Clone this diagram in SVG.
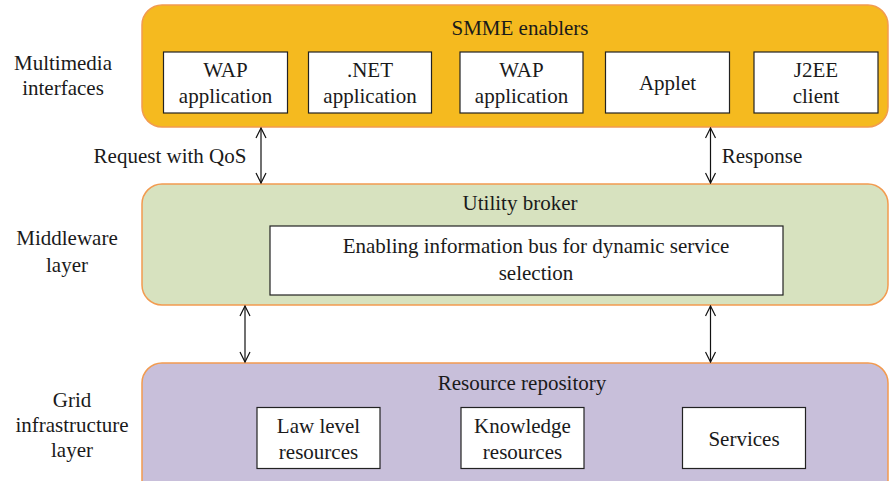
<svg xmlns="http://www.w3.org/2000/svg" width="889" height="481" viewBox="0 0 889 481">
<defs>
<style>
.panel{stroke:#F29B50;stroke-width:1.5}
.box{fill:#fff;stroke:#222;stroke-width:1.2}
.conn{stroke:#111;stroke-width:1.2;fill:none;marker-start:url(#ah);marker-end:url(#ah)}
</style>
<marker id="ah" viewBox="0 0 12 12" refX="11" refY="6" markerWidth="12" markerHeight="12" markerUnits="userSpaceOnUse" orient="auto-start-reverse">
<path d="M1,1 L11,6 L1,11" fill="none" stroke="#111" stroke-width="1.2"/>
</marker>
</defs>
<rect width="889" height="481" fill="#fff"/>
<g font-family="'Liberation Serif', 'Times New Roman', serif" font-size="21" fill="#1a1a1a" text-anchor="middle">
<g id="labels-left">
<text x="63" y="70">Multimedia</text>
<text x="63" y="95">interfaces</text>
<text x="67" y="245">Middleware</text>
<text x="67" y="272">layer</text>
<text x="72" y="407">Grid</text>
<text x="72" y="432">infrastructure</text>
<text x="72" y="457">layer</text>
</g>

<g id="multimedia-panel">
<rect class="panel" x="142" y="5" width="746" height="122" rx="20" fill="#F5BA1F"/>
<text x="520" y="35">SMME enablers</text>
</g>
<g id="wap1"><rect class="box" x="163.5" y="52" width="124" height="61"/><text x="225.5" y="77">WAP</text><text x="225.5" y="103">application</text></g>
<g id="net"><rect class="box" x="308.5" y="52" width="123" height="61"/><text x="370" y="77">.NET</text><text x="370" y="103">application</text></g>
<g id="wap2"><rect class="box" x="460" y="52" width="123" height="61"/><text x="521.5" y="77">WAP</text><text x="521.5" y="103">application</text></g>
<g id="applet"><rect class="box" x="605.5" y="52" width="124" height="61"/><text x="667.5" y="90">Applet</text></g>
<g id="j2ee"><rect class="box" x="754" y="52" width="124" height="61"/><text x="816" y="77">J2EE</text><text x="816" y="103">client</text></g>

<g id="middleware-panel">
<rect class="panel" x="142" y="184" width="746" height="121" rx="20" fill="#D7E2BF"/>
<text x="520" y="210">Utility broker</text>
</g>
<g id="bus"><rect class="box" x="270" y="226" width="513" height="69"/><text x="536" y="253">Enabling information bus for dynamic service</text><text x="536" y="280">selection</text></g>

<g id="grid-panel">
<rect class="panel" x="142" y="363" width="746" height="140" rx="20" fill="#C8BFDA"/>
<text x="522" y="390">Resource repository</text>
</g>
<g id="law"><rect class="box" x="257" y="407.5" width="123" height="61"/><text x="318.5" y="433">Law level</text><text x="318.5" y="459">resources</text></g>
<g id="knowledge"><rect class="box" x="461" y="407.5" width="123" height="61"/><text x="522.5" y="433">Knowledge</text><text x="522.5" y="459">resources</text></g>
<g id="services"><rect class="box" x="682.5" y="407.5" width="123" height="61"/><text x="744" y="446">Services</text></g>

<g id="connectors">
<line class="conn" x1="261" y1="128" x2="261" y2="183"/>
<line class="conn" x1="710.5" y1="128" x2="710.5" y2="183"/>
<line class="conn" x1="245" y1="306" x2="245" y2="362"/>
<line class="conn" x1="710.5" y1="306" x2="710.5" y2="362"/>
<text x="170" y="163">Request with QoS</text>
<text x="762" y="163">Response</text>
</g>
</g>
</svg>
